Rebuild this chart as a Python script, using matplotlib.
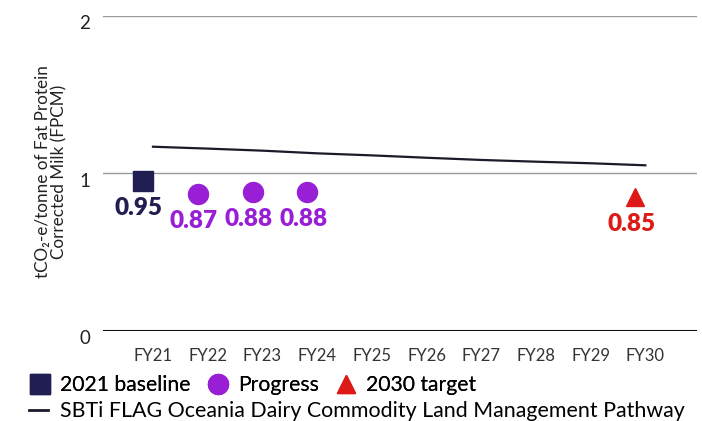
import matplotlib
matplotlib.use("Agg")
import matplotlib.pyplot as plt
import matplotlib.transforms as mtransforms
from matplotlib.lines import Line2D

plt.rcParams["font.family"] = ["Lato", "DejaVu Sans"]

years = ["FY21", "FY22", "FY23", "FY24", "FY25", "FY26", "FY27", "FY28", "FY29", "FY30"]
pathway = [1.17, 1.158, 1.145, 1.128, 1.115, 1.10, 1.086, 1.075, 1.065, 1.052]

baseline_year = ["FY21"]
baseline_value = [0.95]
progress_years = ["FY22", "FY23", "FY24"]
progress_values = [0.87, 0.88, 0.88]
target_year = ["FY30"]
target_value = [0.85]

NAVY = "#211f52"
PURPLE = "#981fd6"
RED = "#dd1a17"
LINE = "#1b1b2a"
SHIFT = -0.18  # markers sit slightly left of the year tick

fig = plt.figure(figsize=(7.02, 4.21), dpi=100)
ax = fig.add_axes([0.1467, 0.2138, 0.8462, 0.7482])

xpos = {y: i for i, y in enumerate(years)}

ax.plot(range(len(years)), pathway, color=LINE, linewidth=1.6, zorder=3)

def marked(yrs, vals, marker, color, size):
    xs = [xpos[y] + SHIFT for y in yrs]
    ax.plot(xs, vals, linestyle="none", marker=marker, color=color,
            markersize=size, zorder=4)
    for x, v in zip(xs, vals):
        ax.annotate(f"{v:.2f}", (x, v), xytext=(-3, -19.5), textcoords="offset points",
                    ha="center", va="center", fontsize=17.5, fontweight="heavy",
                    color=color)

marked(baseline_year, baseline_value, "s", NAVY, 15)
marked(progress_years, progress_values, "o", PURPLE, 14.4)
marked(target_year, target_value, "^", RED, 13.5)

ax.set_xlim(-0.914, 9.945)
ax.set_ylim(0, 2)
ax.set_yticks([0, 1, 2])
ax.set_xticks(range(len(years)))
ax.set_xticklabels(years)
ax.tick_params(axis="x", length=0, pad=12, labelsize=12, labelcolor="#333333")
ax.tick_params(axis="y", length=0, pad=9, labelsize=13.5, labelcolor="#222222")
# y labels sit a little under their gridlines
drop = mtransforms.ScaledTranslation(0, -0.065, fig.dpi_scale_trans)
for lab in ax.get_yticklabels():
    lab.set_transform(lab.get_transform() + drop)

for s in ["top", "right", "left", "bottom"]:
    ax.spines[s].set_visible(False)
for v in [1, 2]:
    ax.axhline(v, color="#9a9a9a", linewidth=1.0, zorder=1)
ax.axhline(0, color="#111111", linewidth=1.5, zorder=1)

fig.text(0.073, 1 - 172 / 421,
         "tCO\u2082-e/tonne of Fat Protein\nCorrected Milk (FPCM)",
         rotation=90, ha="center", va="center", fontsize=12.3,
         color="#222222", linespacing=1.0)

handles = [
    Line2D([], [], linestyle="none", marker="s", color=NAVY, markersize=15),
    Line2D([], [], linestyle="none", marker="o", color=PURPLE, markersize=14.4),
    Line2D([], [], linestyle="none", marker="^", color=RED, markersize=13.5),
]
leg1 = fig.legend(handles, ["2021 baseline", "Progress", "2030 target"],
                  loc="center left", bbox_to_anchor=(0.039, 1 - 385 / 421),
                  ncol=3, frameon=False, fontsize=15.2, handlelength=1.2,
                  handletextpad=0.35, columnspacing=0.7, borderpad=0,
                  borderaxespad=0)
fig.legend([Line2D([], [], color=LINE, linewidth=2)],
           ["SBTi FLAG Oceania Dairy Commodity Land Management Pathway"],
           loc="center left", bbox_to_anchor=(0.0413, 1 - 411 / 421),
           frameon=False, fontsize=15.4, handlelength=0.9, handletextpad=0.57,
           borderpad=0, borderaxespad=0)
fig.add_artist(leg1)

fig.savefig("out.png", dpi=100)
